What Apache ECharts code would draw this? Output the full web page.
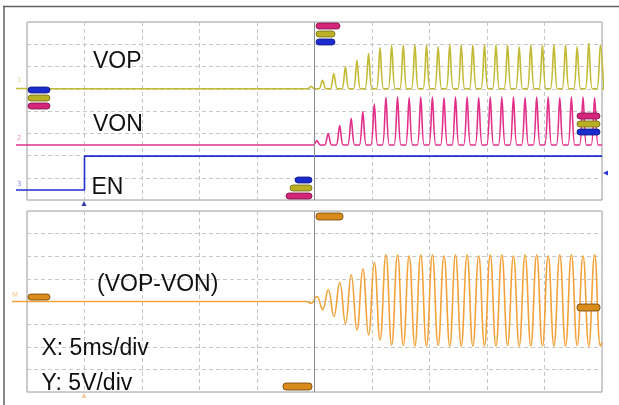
<!DOCTYPE html>
<html><head><meta charset="utf-8">
<script src="https://cdn.jsdelivr.net/npm/echarts@6/dist/echarts.min.js"></script>
<style>html,body{margin:0;padding:0;background:#fff;}#c{width:619px;height:405px;}</style>
</head><body><div id="c"></div>
<script>
// ---- Data (time in ms, voltage in V; 5 ms/div, 5 V/div) ----
const timeRange = [0, 50];
const divisions = [0, 8];
const voltsPerDiv = 5;
const triggerTime = 25;
const enableTime = 5;

// VOP: peak times and peak voltages of each pulse
const vopPeakT = [24.70, 25.70, 26.68, 27.69, 28.69, 29.70, 30.70, 31.71, 32.72, 33.73, 34.74, 35.75, 36.76,
                  37.76, 38.77, 39.78, 40.78, 41.79, 42.80, 43.81, 44.82, 45.82, 46.83, 47.84, 48.85, 49.86];
const vopPeakV = [0.5, 1.9, 3.4, 4.9, 6.4, 7.9, 9.2, 9.7, 9.8, 9.8, 9.8, 9.4, 9.8,
                  9.8, 9.8, 9.8, 9.8, 9.8, 9.4, 9.8, 9.8, 9.8, 9.8, 9.4, 10.2, 9.8];
// VON: peak times and peak voltages of each pulse
const vonPeakT = [25.20, 26.19, 27.19, 28.19, 29.20, 30.20, 31.21, 32.22, 33.23, 34.24, 35.25, 36.26, 37.26,
                  38.27, 39.28, 40.28, 41.29, 42.30, 43.31, 44.32, 45.32, 46.33, 47.34, 48.35, 49.36];
const vonPeakV = [1.0, 2.6, 4.4, 6.0, 7.5, 9.2, 10.7, 10.8, 10.6, 10.8, 10.8, 10.6, 10.8,
                  10.8, 10.6, 10.8, 10.8, 10.8, 10.6, 10.8, 10.8, 10.6, 10.8, 10.8, 10.6];
const pulseHalfWidth = 0.3;
// EN step
const enT = [0, 5.0, 5.0, 50];
const enV = [0, 0, 7.6, 7.6];
// VOP-VON extremes
const diffT = [0, 24.30, 24.70, 25.20, 25.70, 26.19, 26.68, 27.19, 27.69, 28.19, 28.69, 29.20, 29.70, 30.20, 30.70,
               31.21, 31.71, 32.22, 32.72, 33.23, 33.73, 34.24, 34.74, 35.25, 35.75, 36.26, 36.76, 37.26, 37.76,
               38.27, 38.77, 39.28, 39.78, 40.28, 40.78, 41.29, 41.79, 42.30, 42.80, 43.31, 43.81, 44.32, 44.82,
               45.32, 45.82, 46.33, 46.83, 47.34, 47.84, 48.35, 48.85, 49.36, 49.86];
const diffV = [0, 0, -0.4, 1.1, -1.8, 2.6, -3.3, 4.2, -4.9, 5.9, -6.3, 7.2, -7.4, 8.6, -8.5,
               10.3, -9.6, 10.3, -9.7, 10.1, -9.8, 10.3, -9.9, 10.3, -9.7, 10.1, -9.9, 10.3, -9.8,
               10.3, -9.9, 10.1, -9.8, 10.3, -9.9, 10.3, -9.7, 10.1, -9.9, 10.3, -9.8, 10.3, -9.9,
               10.1, -9.8, 10.3, -9.9, 10.3, -9.7, 10.1, -9.9, 10.3, -9.8];
// channel offsets (divisions from bottom of each panel)
const vopOffset = 5.0, vonOffset = 2.47, enOffset = 0.45, diffOffset = 4.0;

// ---- build series data ----
function pulseTrace(ts, vs, off) {
  const pts = [[timeRange[0], off]];
  ts.forEach((t, i) => {
    pts.push([t - pulseHalfWidth, off], [t, off + vs[i] / voltsPerDiv], [t + pulseHalfWidth, off]);
  });
  pts.push([timeRange[1], off]);
  return pts;
}
const vopData = pulseTrace(vopPeakT, vopPeakV, vopOffset);
const vonData = pulseTrace(vonPeakT, vonPeakV, vonOffset);
const enData = enT.map((t, i) => [t, enOffset + enV[i] / voltsPerDiv]);
const diffData = diffT.map((t, i) => [t, diffOffset + diffV[i] / voltsPerDiv]);
diffData.push([timeRange[1], diffOffset + (-9.0) / voltsPerDiv]);

const C_VOP = '#c2ba34', C_VON = '#e2308a', C_EN = '#2230cf', C_DIFF = '#f3a23a';

function xAx(g) {
  return { gridIndex: g, type: 'value', min: timeRange[0], max: timeRange[1], interval: 5,
    axisLabel: { show: false }, axisTick: { show: false }, axisLine: { show: false },
    splitLine: { show: true, lineStyle: { color: '#c6c6c6', type: [4, 3], width: 1 } } };
}
function yAx(g) {
  return { gridIndex: g, type: 'value', min: divisions[0], max: divisions[1], interval: 1,
    axisLabel: { show: false }, axisTick: { show: false }, axisLine: { show: false },
    splitLine: { show: true, lineStyle: { color: '#c6c6c6', type: [4, 3], width: 1 } } };
}
const trigLine = { symbol: 'none', silent: true, animation: false, label: { show: false },
  lineStyle: { type: 'solid', color: '#8c8c8c', width: 1 }, data: [{ xAxis: triggerTime }] };

function line(name, data, color, g, extra) {
  return Object.assign({ name, type: 'line', xAxisIndex: g, yAxisIndex: g, data, showSymbol: false,
    symbol: 'none', animation: false, lineStyle: { color, width: 1.6 }, itemStyle: { color }, z: 3 }, extra || {});
}

const chart = echarts.init(document.getElementById('c'), null, { renderer: 'canvas' });

function badge(x, y, w, h, fill, stroke) {
  return { type: 'rect', shape: { x, y, width: w, height: h, r: 3 },
    style: { fill, stroke, lineWidth: 0.8 }, z: 50 };
}
function label(text, x, y) {
  return { type: 'text', x, y, z: 60, style: { text, fill: '#111',
    font: '23px "Liberation Sans", Arial, sans-serif', textAlign: 'left', textVerticalAlign: 'middle' } };
}
function tiny(text, x, y, color) {
  return { type: 'text', x, y, z: 60, style: { text, fill: color, opacity: 0.6,
    font: '7px "DejaVu Sans", sans-serif', textAlign: 'left', textVerticalAlign: 'middle' } };
}
function stub(x1, x2, y, color) {
  return { type: 'line', shape: { x1, y1: y, x2, y2: y }, style: { stroke: color, lineWidth: 1.5 }, z: 40 };
}
const B = '#1c2ccc', O = '#b9b024', M = '#d4257b', OR = '#d98c1c';

chart.setOption({
  animation: false,
  backgroundColor: '#ffffff',
  grid: [
    { left: 27, top: 22, width: 575, height: 178, show: true, borderColor: '#9c9c9c', borderWidth: 1, backgroundColor: '#fff' },
    { left: 27, top: 211, width: 575, height: 181, show: true, borderColor: '#9c9c9c', borderWidth: 1, backgroundColor: '#fff' }
  ],
  xAxis: [xAx(0), xAx(1)],
  yAxis: [yAx(0), yAx(1)],
  series: [
    line('EN', enData, C_EN, 0, { markLine: trigLine }),
    line('VON', vonData, C_VON, 0, { smooth: 0.3 }),
    line('VOP', vopData, C_VOP, 0, { smooth: 0.3 }),
    line('VOP-VON', diffData, C_DIFF, 1, { smooth: 0.45, markLine: trigLine })
  ],
  graphic: [
    // frame
    { type: 'line', shape: { x1: 3, y1: 6.5, x2: 619, y2: 6.5 }, style: { stroke: '#606060', lineWidth: 1.5 }, z: 1 },
    { type: 'line', shape: { x1: 4, y1: 6, x2: 4, y2: 405 }, style: { stroke: '#606060', lineWidth: 1.5 }, z: 1 },
    // labels
    label('VOP', 93, 61.7),
    label('VON', 93, 124.5),
    label('EN', 91.5, 187.5),
    label('(VOP-VON)', 97, 284.3),
    label('X: 5ms/div', 41.5, 348.3),
    label('Y: 5V/div', 41.5, 383.7),
    // channel ground markers
    tiny('1', 17, 80, C_VOP), stub(16, 27, 88.5, C_VOP),
    tiny('2', 17, 138, C_VON), stub(16, 27, 145, C_VON),
    tiny('3', 17, 184, C_EN), stub(16, 27, 190, C_EN),
    tiny('M', 12, 295, C_DIFF), stub(12, 27, 301.5, C_DIFF),
    // badges top panel
    badge(28, 87, 22, 6, B, '#0c1680'), badge(28, 95, 22, 6, O, '#6e6a10'), badge(28, 103, 22, 6, M, '#7a1046'),
    badge(316, 23, 24, 6, M, '#7a1046'), badge(316, 31, 19, 6, O, '#6e6a10'), badge(316, 39, 19, 6, B, '#0c1680'),
    badge(295, 177, 17, 6, B, '#0c1680'), badge(290, 185, 22, 6, O, '#6e6a10'), badge(286, 193, 26, 6, M, '#7a1046'),
    badge(577, 113, 23, 6, M, '#7a1046'), badge(577, 121, 23, 6, O, '#6e6a10'), badge(577, 129, 23, 6, B, '#0c1680'),
    // badges bottom panel
    badge(316, 213, 27, 7, OR, '#6e4208'), badge(28, 294, 22, 6, OR, '#6e4208'),
    badge(577, 304, 23, 7, OR, '#6e4208'), badge(283, 383, 29, 7, OR, '#6e4208'),
    // trigger markers
    { type: 'polygon', shape: { points: [[84, 201], [81.5, 206], [86.5, 206]] }, style: { fill: '#2a3aa0' }, z: 60 },
    { type: 'polygon', shape: { points: [[84, 393], [81.5, 398], [86.5, 398]] }, style: { fill: '#f0b070', opacity: 0.7 }, z: 60 },
    { type: 'polygon', shape: { points: [[603, 173], [608, 170.5], [608, 175.5]] }, style: { fill: '#2a3ad0' }, z: 60 }
  ]
});
</script>
</body></html>
